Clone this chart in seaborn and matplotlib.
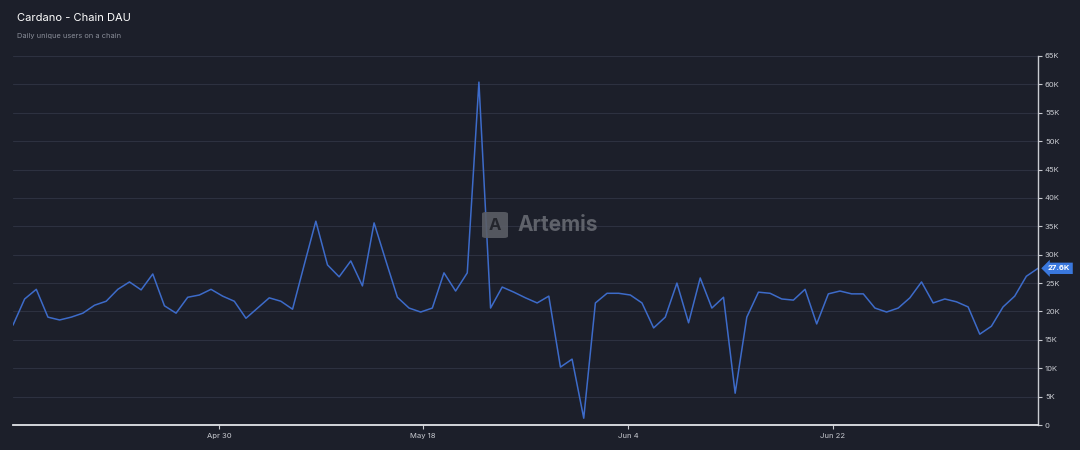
import numpy as np
import pandas as pd
import matplotlib
matplotlib.use("Agg")
import matplotlib.pyplot as plt
from matplotlib.patches import FancyBboxPatch
import seaborn as sns

# Data (daily unique users, thousands)
start_date = "2024-04-13"
dau_k = [17.6, 22.2, 23.9, 19.0, 18.5, 19.0, 19.7, 21.1, 21.8, 23.9,
         25.2, 23.8, 26.6, 21.0, 19.7, 22.5, 22.9, 23.9, 22.7, 21.8,
         18.8, 20.6, 22.4, 21.8, 20.4, 28.2, 35.9, 28.2, 26.1, 28.9,
         24.5, 35.6, 29.0, 22.5, 20.6, 19.9, 20.6, 26.8, 23.6, 26.8,
         60.4, 20.6, 24.3, 23.4, 22.4, 21.5, 22.7, 10.2, 11.6, 1.2,
         21.5, 23.2, 23.2, 22.9, 21.5, 17.1, 19.0, 25.0, 18.0, 25.9,
         20.6, 22.5, 5.6, 19.0, 23.4, 23.2, 22.2, 22.0, 23.9, 17.8,
         23.1, 23.6, 23.1, 23.1, 20.6, 19.9, 20.6, 22.4, 25.2, 21.5,
         22.2, 21.7, 20.8, 16.0, 17.4, 20.8, 22.7, 26.2, 27.6]
y_ticks_k = list(range(0, 70, 5))
y_tick_labels = ["0"] + [f"{v}K" for v in y_ticks_k[1:]]
x_tick_offsets = [17.7, 35.2, 52.8, 70.4]   # days after start, as placed in the chart
x_tick_labels = ["Apr 30", "May 18", "Jun 4", "Jun 22"]

dates = pd.date_range(start_date, periods=len(dau_k), freq="D")
df = pd.DataFrame({"date": dates, "dau": np.array(dau_k) * 1000})

bg = "#1c1f2a"
grid_c = "#2d3140"
line_c = "#3d6bc9"
axis_c = "#c9cbd1"

sns.set_style("dark")
plt.rcParams["font.family"] = ["Inter", "DejaVu Sans"]

fig = plt.figure(figsize=(10.8, 4.5), dpi=100, facecolor=bg)
ax = fig.add_axes([13 / 1080, 25 / 450, 1025 / 1080, 369 / 450])
ax.set_facecolor(bg)

sns.lineplot(data=df, x="date", y="dau", ax=ax, color=line_c, linewidth=1.1)

ax.set_xlim(dates[0], dates[-1])
ax.set_ylim(0, 65000)
ax.set_xlabel("")
ax.set_ylabel("")

# y axis on the right
ax.yaxis.tick_right()
ax.set_yticks([v * 1000 for v in y_ticks_k])
ax.set_yticklabels(y_tick_labels)
ax.tick_params(axis="y", colors=axis_c, labelsize=5.5, length=3, width=0.8, pad=2,
               right=True, left=False)
ax.yaxis.grid(True, color=grid_c, linewidth=0.8)
ax.xaxis.grid(False)

tick_pos = [dates[0] + pd.Timedelta(days=d) for d in x_tick_offsets]
ax.set_xticks(tick_pos)
ax.set_xticklabels(x_tick_labels)
ax.tick_params(axis="x", colors=axis_c, labelsize=5.5, length=3, width=0.8, pad=3,
               bottom=True)

for side in ["top", "left"]:
    ax.spines[side].set_visible(False)
ax.spines["bottom"].set_color("#e2e4e8")
ax.spines["bottom"].set_linewidth(1.3)
ax.spines["right"].set_color(axis_c)
ax.spines["right"].set_linewidth(1.0)

# titles
fig.text(17 / 1080, 1 - 18 / 450, "Cardano - Chain DAU", color="white",
         fontsize=8, va="center", ha="left")
fig.text(17 / 1080, 1 - 36 / 450, "Daily unique users on a chain", color="#8a8e99",
         fontsize=5.3, va="center", ha="left")

# watermark
icon = FancyBboxPatch((482 / 1080, 1 - 238 / 450), 26 / 1080, 26 / 450,
                      boxstyle="round,pad=0.0,rounding_size=0.004",
                      transform=fig.transFigure, facecolor="#5b5e66",
                      edgecolor="none", alpha=0.9)
fig.patches.append(icon)
fig.text(495 / 1080, 1 - 225 / 450, "A", color="#24262d", fontsize=12,
         fontweight="bold", ha="center", va="center")
fig.text(517 / 1080, 1 - 225 / 450, "Artemis", color="#5f626a", fontsize=15,
         fontweight="bold", ha="left", va="center")

# last value tag
last = df["dau"].iloc[-1]
ax.annotate(f"{last / 1000:.1f}K", xy=(1, last), xycoords=("axes fraction", "data"),
            xytext=(7, 0), textcoords="offset points", color="white", fontsize=5.5,
            fontweight="bold", va="center", ha="left", annotation_clip=False,
            bbox=dict(boxstyle="larrow,pad=0.35", facecolor="#3a78de", edgecolor="none"))

fig.savefig("out.png", dpi=100, facecolor=bg)
